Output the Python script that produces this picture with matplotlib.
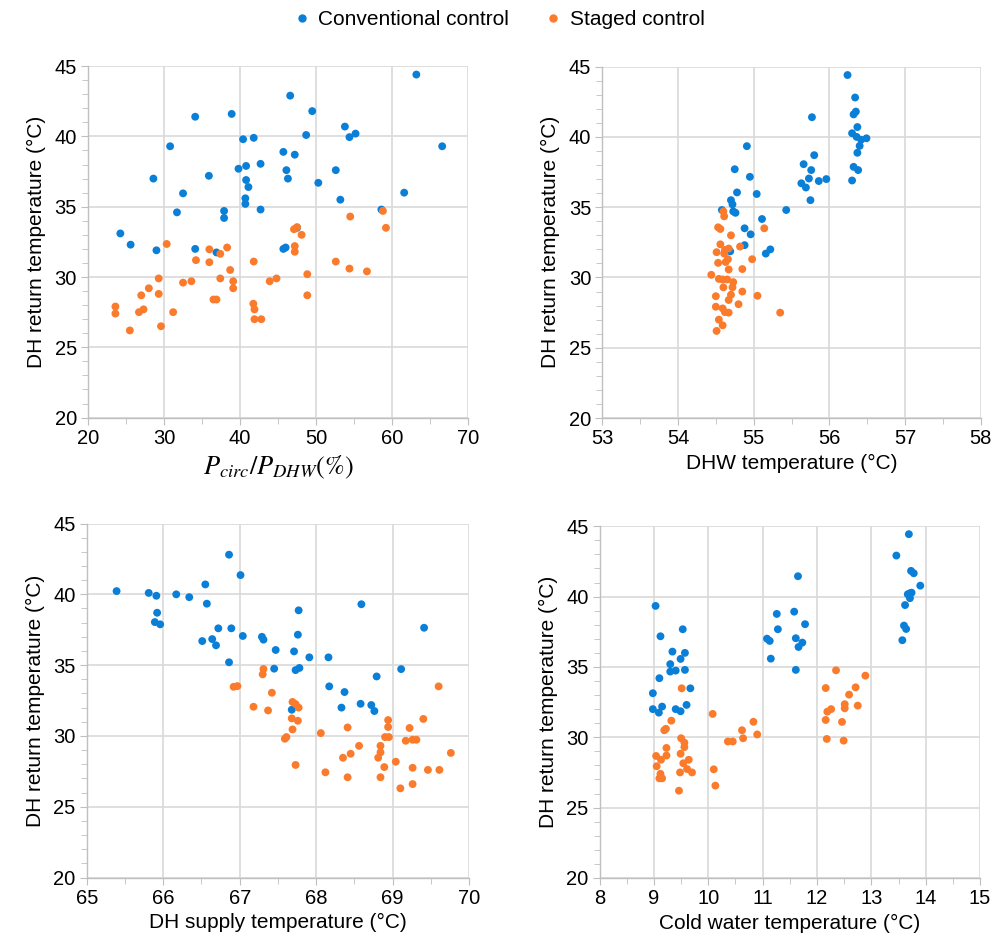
import matplotlib.pyplot as plt
from matplotlib.ticker import MultipleLocator

# Värit ja fontti
BLUE = '#0a7fd8'
ORANGE = '#fb7b2c'
GRID = '#d9d9d9'
plt.rcParams['font.family'] = ['Liberation Sans', 'DejaVu Sans']
plt.rcParams['mathtext.fontset'] = 'stix'

# Paneeli 1: P_circ / P_DHW (%)
conv_x1 = [34.1, 38.9, 30.8, 40.4, 41.8, 28.6, 35.9, 39.8, 40.8, 42.7, 40.8, 41.1, 32.5, 40.7, 40.7,
           31.7, 37.9, 37.9, 42.7, 24.25, 25.6, 29.0, 34.1, 36.9,
           46.6, 49.5, 53.8, 54.4, 55.2, 48.7, 63.2, 66.6, 45.7, 47.2, 46.1, 46.3, 52.6, 50.3, 53.2,
           61.6, 58.6, 47.5, 45.7, 46.0]
conv_y1 = [41.4, 41.6, 39.3, 39.8, 39.9, 37.0, 37.2, 37.7, 37.9, 38.05, 36.9, 36.4, 35.95, 35.6, 35.2,
           34.6, 34.7, 34.2, 34.8, 33.1, 32.3, 31.9, 32.0, 31.75,
           42.9, 41.8, 40.7, 39.95, 40.2, 40.1, 44.4, 39.3, 38.9, 38.7, 37.6, 37.0, 37.6, 36.7, 35.5,
           36.0, 34.8, 33.5, 32.0, 32.1]
staged_x1 = [54.5, 58.8, 59.2, 47.1, 47.5, 48.1, 47.2, 47.2, 41.8, 52.6, 54.4, 56.7, 48.85, 44.8, 43.9,
             48.85, 41.75, 41.9, 41.9, 42.8,
             30.35, 34.2, 35.96, 35.96, 37.4, 38.3, 38.7, 39.1, 39.1, 37.4, 29.3, 32.5, 33.6, 28.0, 27.0,
             29.3, 36.5, 36.9, 23.6, 23.6, 26.7, 27.3, 31.2, 25.5, 29.6]
staged_y1 = [34.3, 34.7, 33.5, 33.4, 33.55, 33.0, 32.2, 31.8, 31.1, 31.1, 30.6, 30.4, 30.2, 29.9, 29.7,
             28.7, 28.1, 27.7, 27.0, 27.0,
             32.35, 31.2, 31.97, 31.05, 31.65, 32.1, 30.5, 29.7, 29.2, 29.9, 29.9, 29.6, 29.7, 29.2, 28.7,
             28.8, 28.4, 28.4, 27.9, 27.4, 27.5, 27.7, 27.5, 26.2, 26.5]

# Paneeli 2: DHW temperature
conv_x2 = [56.24, 56.34, 56.32, 56.35, 56.37, 56.30, 56.36, 56.42, 56.49, 56.40, 56.37, 56.32, 56.38, 56.30,
           55.77, 55.80, 55.66, 55.76, 55.73, 55.86, 55.96, 55.63, 55.69, 55.75, 55.43,
           54.91, 54.75, 54.95, 54.78, 55.04, 54.70, 54.72, 54.58, 54.73, 54.76, 55.11, 54.88, 54.96,
           54.88, 55.22, 55.16, 54.69]
conv_y2 = [44.4, 42.8, 41.6, 41.8, 40.7, 40.26, 40.0, 39.8, 39.9, 39.36, 38.87, 37.87, 37.64, 36.9,
           41.4, 38.7, 38.06, 37.64, 37.04, 36.86, 37.0, 36.7, 36.4, 35.5, 34.8,
           39.34, 37.7, 37.16, 36.05, 35.94, 35.5, 35.2, 34.8, 34.7, 34.6, 34.16, 33.5, 33.07,
           32.3, 32.0, 31.7, 31.86]
staged_x2 = [54.6, 54.61, 54.53, 54.56, 54.70, 55.14, 54.56, 54.67, 54.62, 54.82, 54.51, 54.61,
             54.66, 54.63, 54.53, 54.67, 54.44, 54.54, 54.59, 54.65, 54.73, 54.6, 54.72, 54.70, 54.5,
             54.67, 54.5, 54.59, 54.62, 54.67, 54.54, 54.59, 54.51,
             54.85, 54.98, 55.05, 55.35, 54.8, 54.85]
staged_y2 = [34.7, 34.35, 33.57, 33.45, 33.0, 33.5, 32.36, 32.06, 31.96, 32.2, 31.8, 31.7,
             31.3, 31.1, 31.04, 30.57, 30.19, 29.9, 29.86, 29.86, 29.67, 29.3, 29.3, 28.77, 28.67,
             28.4, 27.92, 27.8, 27.54, 27.5, 27.0, 26.6, 26.2,
             30.6, 31.3, 28.7, 27.5, 28.1, 29.0]

# Paneeli 3: DH supply temperature
conv_x3 = [65.39, 65.81, 65.91, 65.92, 65.89, 65.96, 66.17, 66.34, 66.55, 66.57, 66.86, 67.01, 66.72,
           66.89, 67.04, 66.51, 66.64, 66.69, 66.86, 67.29, 67.31,
           67.77, 67.76, 67.47, 67.71, 67.45, 67.73, 67.78, 67.68, 67.91, 68.16, 68.59, 69.41, 68.17,
           68.37, 68.33, 68.58, 68.72, 68.76, 68.79, 69.11]
conv_y3 = [40.23, 40.1, 39.9, 38.7, 38.04, 37.88, 40.0, 39.8, 40.7, 39.34, 42.8, 41.36, 37.6,
           37.6, 37.06, 36.7, 36.84, 36.4, 35.2, 37.0, 36.8,
           38.87, 37.15, 36.07, 35.97, 34.75, 34.65, 34.8, 31.85, 35.55, 35.55, 39.3, 37.64, 33.5,
           33.1, 32.0, 32.27, 32.18, 31.76, 34.2, 34.72]
staged_x3 = [67.31, 67.30, 66.92, 66.97, 67.18, 67.37, 67.42, 67.69, 67.73, 67.77, 67.68, 67.76, 67.69,
             67.59, 67.61, 67.73, 68.06, 68.41, 68.35, 68.45, 68.12, 68.41, 68.56, 68.84, 68.84,
             68.81, 68.89, 68.84, 68.94, 68.94, 68.9, 68.95, 69.04, 69.1, 69.17, 69.22, 69.26, 69.31,
             69.26, 69.26, 69.40, 69.60, 69.46, 69.61, 69.76]
staged_y3 = [34.73, 34.35, 33.47, 33.52, 32.06, 31.8, 33.05, 32.4, 32.25, 32.0, 31.24, 31.07, 30.46,
             29.8, 29.92, 27.95, 30.2, 30.6, 28.46, 28.74, 27.43, 27.08, 29.3, 29.3, 28.84,
             28.46, 27.8, 27.08, 31.12, 30.63, 29.92, 29.92, 28.18, 26.3, 29.66, 30.56, 29.73, 29.73,
             27.75, 26.6, 31.2, 33.5, 27.6, 27.6, 28.8]

# Paneeli 4: Cold water temperature
conv_x4 = [9.03, 9.12, 9.53, 9.34, 9.57, 9.30, 9.49, 9.3, 9.40, 9.57, 9.1, 9.67, 8.98, 8.98, 9.15,
           9.09, 9.40, 9.49, 9.6,
           11.65, 11.58, 11.26, 11.78, 11.28, 11.08, 11.13, 11.61, 11.73, 11.66, 11.15, 11.61,
           13.69, 13.46, 13.73, 13.78, 13.9, 13.67, 13.71, 13.74, 13.71, 13.62, 13.60, 13.64, 13.57]
conv_y4 = [39.34, 37.18, 37.68, 36.09, 36.0, 35.2, 35.57, 34.67, 34.74, 34.79, 34.2, 33.48, 33.13, 32.0,
           32.18, 31.75, 32.0, 31.85, 32.3,
           41.45, 38.93, 38.77, 38.04, 37.68, 37.01, 36.85, 37.04, 36.73, 36.42, 35.59, 34.79,
           44.44, 42.92, 41.83, 41.66, 40.78, 40.17, 40.24, 40.28, 39.89, 39.4, 37.94, 37.7, 36.9]
staged_x4 = [9.51, 10.08, 9.32, 9.19, 9.22, 9.23, 9.04, 9.13, 9.23, 9.05, 9.12, 9.10, 9.15, 9.50, 9.56,
             9.56, 9.49, 9.64, 9.54, 9.61, 9.48, 9.70, 9.46, 10.1, 10.13, 10.36, 10.45, 10.62, 10.64,
             10.83, 10.90,
             12.35, 12.89, 12.71, 12.16, 12.59, 12.75, 12.51, 12.51, 12.19, 12.26, 12.16, 12.46,
             12.18, 12.49]
staged_y4 = [33.48, 31.66, 31.18, 30.5, 30.6, 29.24, 28.67, 28.4, 28.7, 27.94, 27.4, 27.08, 27.08,
             29.93, 29.62, 29.3, 28.83, 28.4, 28.15, 27.74, 27.5, 27.5, 26.2, 27.72, 26.56, 29.7,
             29.7, 30.5, 29.93, 31.1, 30.2,
             34.76, 34.38, 33.55, 33.5, 33.03, 32.25, 32.35, 32.06, 31.82, 32.0, 31.23, 31.09,
             29.88, 29.76]

YLABEL = 'DH return temperature (°C)'


def piirra_paneeli(fig, rect, cx, cy, sx, sy, xlim, xmajor, xminor, xlabel, xlabel_size=15):
    ax = fig.add_axes(rect)
    ax.scatter(cx, cy, s=32, color=BLUE, edgecolors='none', zorder=3)
    ax.scatter(sx, sy, s=32, color=ORANGE, edgecolors='none', zorder=3)
    ax.set_xlim(*xlim)
    ax.set_ylim(20, 45)
    ax.xaxis.set_major_locator(MultipleLocator(xmajor))
    ax.xaxis.set_minor_locator(MultipleLocator(xminor))
    ax.yaxis.set_major_locator(MultipleLocator(5))
    ax.yaxis.set_minor_locator(MultipleLocator(1))
    ax.grid(True, which='major', color=GRID, linewidth=1.2, zorder=0)
    ax.set_axisbelow(True)
    for side in ['top', 'right']:
        ax.spines[side].set_visible(False)
    for side in ['left', 'bottom']:
        ax.spines[side].set_color('#bfbfbf')
        ax.spines[side].set_linewidth(1.0)
    ax.tick_params(which='major', direction='out', length=5, color='#bfbfbf',
                   labelsize=14.5, labelcolor='#000000', pad=3)
    ax.tick_params(which='minor', direction='out', length=4, color='#bfbfbf')
    ax.set_xlabel(xlabel, fontsize=xlabel_size, labelpad=4)
    ax.set_ylabel(YLABEL, fontsize=15, labelpad=6)
    return ax


fig = plt.figure(figsize=(9.96, 9.5), dpi=100)

piirra_paneeli(fig, [0.0884, 0.5604, 0.3815, 0.370], conv_x1, conv_y1, staged_x1, staged_y1,
               (20, 70), 10, 5, r'$P_{circ}/P_{DHW}(\%)$', xlabel_size=19)
piirra_paneeli(fig, [0.6047, 0.5599, 0.380, 0.370], conv_x2, conv_y2, staged_x2, staged_y2,
               (53, 58), 1, 0.5, 'DHW temperature (°C)')
piirra_paneeli(fig, [0.0871, 0.0763, 0.384, 0.3726], conv_x3, conv_y3, staged_x3, staged_y3,
               (65, 70), 1, 0.5, 'DH supply temperature (°C)')
piirra_paneeli(fig, [0.602, 0.0759, 0.382, 0.3701], conv_x4, conv_y4, staged_x4, staged_y4,
               (8, 15), 1, 0.5, 'Cold water temperature (°C)')

# Selite ylhäällä
kahvat = [plt.Line2D([], [], marker='o', linestyle='none', markersize=5, color=BLUE),
          plt.Line2D([], [], marker='o', linestyle='none', markersize=5, color=ORANGE)]
fig.legend(kahvat, ['Conventional control', 'Staged control'], loc='center',
           bbox_to_anchor=(0.5, 0.979), ncol=2, frameon=False, fontsize=15,
           handletextpad=0.3, columnspacing=1.6, handlelength=1.0)

fig.savefig('out.png', dpi=100)
